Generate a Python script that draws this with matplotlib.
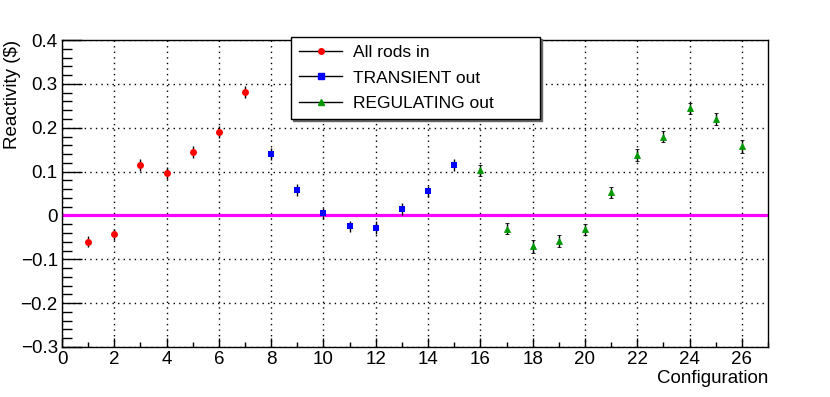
import numpy as np
import matplotlib
matplotlib.use("Agg")
from matplotlib import pyplot as plt
from matplotlib.ticker import MultipleLocator, FuncFormatter
from matplotlib.lines import Line2D

# All rods in
cfg_all = [1, 2, 3, 4, 5, 6, 7]
rho_all = [-0.060, -0.043, 0.115, 0.097, 0.145, 0.190, 0.282]
err_all = [0.013, 0.013, 0.013, 0.013, 0.013, 0.013, 0.014]

# TRANSIENT out
cfg_tr = [8, 9, 10, 11, 12, 13, 14, 15]
rho_tr = [0.140, 0.058, 0.005, -0.025, -0.028, 0.015, 0.055, 0.115]
err_tr = [0.013, 0.013, 0.013, 0.013, 0.015, 0.013, 0.013, 0.013]

# REGULATING out
cfg_reg = [16, 17, 18, 19, 20, 21, 22, 23, 24, 25, 26]
rho_reg = [0.103, -0.030, -0.070, -0.058, -0.032, 0.053, 0.138, 0.180, 0.244, 0.220, 0.158]
err_reg = [0.013, 0.013, 0.015, 0.013, 0.013, 0.013, 0.013, 0.013, 0.013, 0.013, 0.015]

labels = ["All rods in", "TRANSIENT out", "REGULATING out"]

plt.rcParams["font.family"] = ["Liberation Sans", "DejaVu Sans"]

fig = plt.figure(figsize=(8.3, 3.97), dpi=100)
ax = fig.add_axes([0.0747, 0.126, 0.8506, 0.773])

ax.set_xlim(0, 27)
ax.set_ylim(-0.3, 0.4)

ax.axhline(0, color="#ff00ff", lw=2.3, zorder=2)

series = [
    (cfg_all, rho_all, err_all, "o", "#ff0000", 5, 0),
    (cfg_tr, rho_tr, err_tr, "s", "#0000ff", 5, 0),
    (cfg_reg, rho_reg, err_reg, "^", "#009900", 5, 0.6),
]
for x, y, e, m, c, ms, mew in series:
    ax.errorbar(x, y, yerr=e, fmt=m, color=c, ms=ms, mec=c, mew=mew, ecolor="black",
                elinewidth=1, capsize=1.5, capthick=1, zorder=3)

ax.xaxis.set_major_locator(MultipleLocator(2))
ax.xaxis.set_minor_locator(MultipleLocator(1))
ax.yaxis.set_major_locator(MultipleLocator(0.1))
ax.yaxis.set_minor_locator(MultipleLocator(0.02))
ax.grid(True, which="major", color="black", linestyle=(0, (1, 3)), lw=1)

ax.tick_params(axis="y", which="major", direction="in", length=14.5, width=1, labelsize=13.5, pad=3)
ax.tick_params(axis="y", which="minor", direction="in", length=7, width=1)
ax.tick_params(axis="x", which="major", direction="in", length=6.5, width=1, labelsize=13.5, pad=3)
ax.tick_params(axis="x", which="minor", direction="in", length=3.5, width=1)
ax.yaxis.set_major_formatter(FuncFormatter(
    lambda v, p: "0" if abs(v) < 1e-9 else ("%.1f" % v).replace("-", "\u2212")))

for s in ax.spines.values():
    s.set_linewidth(1)

ax.set_xlabel("Configuration", fontsize=13.5)
ax.xaxis.set_label_coords(1.0, -0.075)
ax.xaxis.label.set_horizontalalignment("right")
ax.set_ylabel("Reactivity ($)", fontsize=13.5)
ax.yaxis.set_label_coords(-0.058, 1.0)
ax.yaxis.label.set_verticalalignment("bottom")
ax.yaxis.label.set_horizontalalignment("right")

handles = [
    Line2D([], [], color="black", lw=1, marker="o", mfc="#ff0000", mec="#ff0000", ms=4),
    Line2D([], [], color="black", lw=1, marker="s", mfc="#0000ff", mec="#0000ff", ms=4),
    Line2D([], [], color="black", lw=1, marker="^", mfc="#009900", mec="#009900", ms=4),
]
leg = fig.legend(handles, labels, loc="upper left",
                 bbox_to_anchor=(291 / 830, 1 - 37 / 397 - 0.01, 249 / 830, 0.01),
                 mode="expand", fontsize=12.5, frameon=True, fancybox=False,
                 shadow={"ox": 1.5, "oy": -1.5, "color": "#666666", "alpha": 1},
                 edgecolor="black", framealpha=1, handlelength=2.5, borderpad=0.45,
                 labelspacing=0.6, handletextpad=0.6, borderaxespad=0)
leg.get_frame().set_linewidth(1)
leg.set_zorder(5)

fig.savefig("out.png", dpi=100)
